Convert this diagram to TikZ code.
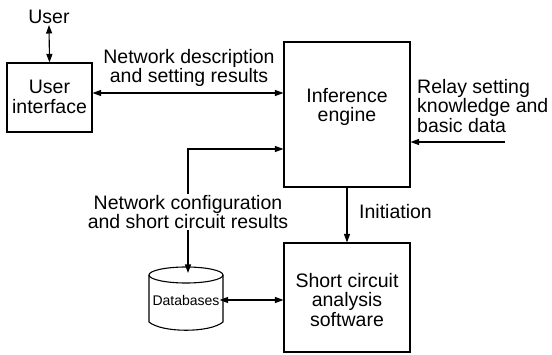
\documentclass[tikz,border=0pt]{standalone}
\usepackage{fontspec}
\setmainfont{Liberation Sans}
\usetikzlibrary{arrows.meta}
\begin{document}
\begin{tikzpicture}[x=1pt,y=-1pt,
  box/.style={draw,line width=1.1pt,rectangle,inner sep=0pt},
  lbl/.style={font=\fontsize{19.5}{19.5}\selectfont,align=center,inner sep=1pt},
  conn/.style={line width=1.1pt,-{Triangle[length=8.5pt,width=6pt]}},
  dconn/.style={line width=1.1pt,{Triangle[length=8.5pt,width=6pt]}-{Triangle[length=8.5pt,width=6pt]}}]
\useasboundingbox (0,0) rectangle (552,355);
% boxes
\node[box,minimum width=85pt,minimum height=69pt] (ui) at (49.5,97.5) {};
\node[lbl] (uitext) at (49.5,97) {User\\interface};
\node[box,minimum width=126pt,minimum height=145pt] (ie) at (347,114.5) {};
\node[lbl] (ietext) at (347,107) {Inference\\engine};
\node[box,minimum width=126pt,minimum height=109pt] (sc) at (347,297.5) {};
\node[lbl] (sctext) at (347,300) {Short circuit\\analysis\\software};
% database cylinder
\node[minimum width=74pt,minimum height=63pt,inner sep=0pt] (db) at (186,298.5) {};
\draw[line width=1.1pt] (186,275) ellipse [x radius=37pt,y radius=8pt];
\draw[line width=1.1pt] (149,275) -- (149,322) .. controls (162,333) and (210,333) .. (223,322) -- (223,275);
\node[font=\fontsize{14}{14}\selectfont,inner sep=0pt] (dbtext) at (186,300) {Databases};
% labels
\node[lbl] (user) at (49,17) {User};
\node[lbl] (nd) at (189,68) {Network description\\and setting results};
\node[lbl] (nc) at (188,212) {Network configuration\\and short circuit results};
\node[lbl,anchor=west,align=left] (relay) at (416,106) {Relay setting\\knowledge and\\basic data};
\node[lbl,anchor=west] (init) at (358,212) {Initiation};
\coordinate (relaysrc) at (505,142);
\coordinate (dbin) at (188,273);
% connectors
\draw[dconn] (user.south) -- (ui.north);
\draw[dconn] (ui.east |- 0,93) -- (ie.west |- 0,93);
\draw[conn] (relaysrc) -- (ie.east |- relaysrc);
\draw[conn] (nc.north) -- (188,149) -- (ie.west |- 0,149);
\draw[conn] (nc.south) -- (dbin);
\draw[conn] (ie.south) -- (sc.north);
\draw[dconn] (dbtext.east |- 0,300) -- (sc.west |- 0,300);
\end{tikzpicture}
\end{document}
